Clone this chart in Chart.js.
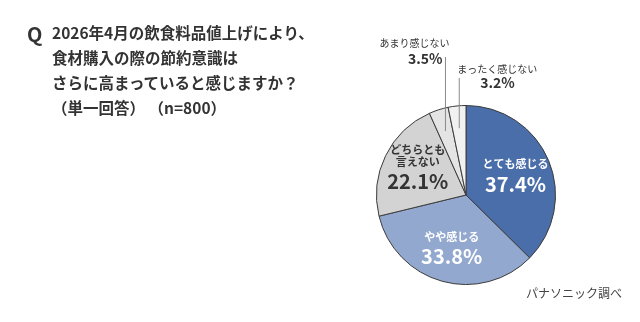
<!DOCTYPE html>
<html>
<head>
<meta charset="utf-8">
<script src="https://cdn.jsdelivr.net/npm/chart.js@4.4.1/dist/chart.umd.min.js"></script>
<style>
  html, body { margin: 0; padding: 0; background: #fff; }
  #wrap { position: relative; width: 640px; height: 322px; font-family: 'Noto Sans CJK JP', sans-serif; color: #333; }
  #q { position: absolute; left: 27px; top: 19px; font-size: 20px; font-weight: bold; }
  #title { position: absolute; left: 52px; top: 20px; font-size: 15.5px; font-weight: bold; line-height: 25px; }
  #source { position: absolute; left: 526px; top: 284px; font-size: 12px; color: #444; }
  canvas { position: absolute; left: 0; top: 0; }
</style>
</head>
<body>
<div id="wrap">
  <canvas id="pieChart" width="640" height="322"></canvas>
  <div id="q">Q</div>
  <div id="title">2026年4月の飲食料品値上げにより、<br>食材購入の際の節約意識は<br>さらに高まっていると感じますか？<br>（単一回答） （n=800）</div>
  <div id="source">パナソニック調べ</div>
</div>
<script>
const categories = ['とても感じる', 'やや感じる', 'どちらとも言えない', 'あまり感じない', 'まったく感じない'];
const labelLines = [['とても感じる'], ['やや感じる'], ['どちらとも', '言えない'], ['あまり感じない'], ['まったく感じない']];
const values = [37.4, 33.8, 22.1, 3.5, 3.2];
const colors = ['#4a6ea9', '#93a8ce', '#d3d3d3', '#e4e4e4', '#f1f1f1'];
const textColors = ['#fff', '#fff', '#333', '#333', '#333'];

const FONT = "'Noto Sans CJK JP', sans-serif";

// labels inside the big slices, callouts for the two small ones
const sliceLabels = {
    id: 'sliceLabels',
    afterDatasetsDraw(chart) {
        const ctx = chart.ctx;
        const arcs = chart.getDatasetMeta(0).data;
        ctx.save();
        ctx.textAlign = 'center';
        ctx.textBaseline = 'middle';
        arcs.forEach((arc, i) => {
            const mid = (arc.startAngle + arc.endAngle) / 2;
            const pct = values[i].toFixed(1) + '%';
            if (values[i] >= 10) {
                const r = arc.outerRadius * 0.6;
                const x = arc.x + Math.cos(mid) * r;
                const y = arc.y + Math.sin(mid) * r;
                const lines = labelLines[i];
                ctx.fillStyle = textColors[i];
                ctx.font = 'bold 11px ' + FONT;
                const top = y - 10 - (lines.length - 1) * 12;
                lines.forEach((l, k) => ctx.fillText(l, x, top + k * 12));
                ctx.font = 'bold 20px ' + FONT;
                ctx.fillText(pct, x, y + 10);
            } else {
                const r = arc.outerRadius * 0.75;
                const x = arc.x + Math.cos(mid) * r;
                const y = arc.y + Math.sin(mid) * r;
                const first = i === 3;
                const topY = chart.chartArea.top - (first ? 48 : 27);
                ctx.strokeStyle = '#8a8a8a';
                ctx.lineWidth = 1;
                ctx.beginPath();
                ctx.moveTo(x, y);
                ctx.lineTo(x, topY);
                ctx.stroke();
                ctx.fillStyle = '#333';
                if (first) {
                    ctx.textAlign = 'right';
                    ctx.font = '10px ' + FONT;
                    ctx.fillText(labelLines[i][0], x + 4, topY - 14);
                    ctx.font = 'bold 14px ' + FONT;
                    ctx.fillText(pct, x - 3, topY + 2);
                } else {
                    ctx.textAlign = 'left';
                    ctx.font = '10px ' + FONT;
                    ctx.fillText(labelLines[i][0], x - 2, topY - 9);
                    ctx.font = 'bold 14px ' + FONT;
                    ctx.fillText(pct, x + 21, topY + 5);
                }
                ctx.textAlign = 'center';
            }
        });
        ctx.restore();
    }
};

new Chart(document.getElementById('pieChart'), {
    type: 'pie',
    data: {
        labels: categories,
        datasets: [{
            data: values,
            backgroundColor: colors,
            borderColor: '#3c3c3c',
            borderWidth: 1
        }]
    },
    options: {
        responsive: false,
        animation: false,
        layout: { padding: { left: 376, right: 84, top: 105, bottom: 37 } },
        plugins: {
            legend: { display: false },
            tooltip: { enabled: false }
        }
    },
    plugins: [sliceLabels]
});
</script>
</body>
</html>
